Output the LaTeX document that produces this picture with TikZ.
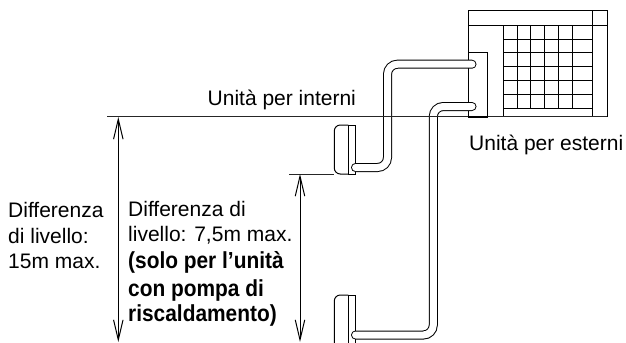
\documentclass[tikz,border=0pt]{standalone}
\usepackage{fontspec}
\setmainfont{Liberation Sans}
\newfontfamily\bnarrow[FakeStretch=0.9]{Liberation Sans}
\usetikzlibrary{arrows.meta}
\tikzset{
  ln/.style={line width=1bp,black!85},
  thin ln/.style={line width=1bp,black},
  pipe/.style={line width=9bp,black,line cap=round,rounded corners=10bp},
  pipein/.style={line width=7bp,white,line cap=round,rounded corners=10bp},
  dim/.style={line width=1bp,black,{Straight Barb[length=20bp,width=9.5bp,line width=1bp]}-{Straight Barb[length=20bp,width=9.5bp,line width=1bp]}},
  lab/.style={inner sep=0pt,anchor=base west,font=\fontsize{21bp}{24bp}\selectfont},
  labb/.style={lab,font=\fontsize{23.2bp}{26bp}\selectfont\bnarrow\bfseries},
}
\begin{document}
\begin{tikzpicture}[x=1bp,y=-1bp]
\useasboundingbox (0,0) rectangle (626,342);
% outdoor unit
\draw[thin ln] (468.3,10.7) rectangle (607.3,116.7);
\draw[thin ln] (468.3,25) -- (607.3,25);
\draw[thin ln] (592.3,10.7) -- (592.3,116.7);
\draw[thin ln] (503.3,25) -- (503.3,116.7);
\foreach \x in {517,530.7,544.3,558.3,572.3} \draw[thin ln] (\x,25) -- (\x,108.3);
\foreach \y in {39,52.7,66.7,80.7,94.3,108.3} \draw[thin ln] (503.3,\y) -- (592.3,\y);
\draw[thin ln] (468.3,52.3) -- (487.7,52.3) -- (487.7,116.7);
% indoor units
\draw[thin ln,rounded corners=6bp] (348.3,125) -- (334.3,125) -- (334.3,174) -- (348.3,174);
\draw[thin ln] (348.3,125) -- (355.7,125) -- (355.7,174) -- (348.3,174) -- cycle;
\draw[thin ln,rounded corners=6bp] (348.3,295) -- (334.3,295) -- (334.3,345);
\draw[thin ln] (348.3,345) -- (348.3,295) -- (355.7,295) -- (355.7,345);
% pipes
\coordinate (p1a) at (472,64.2);
\coordinate (p1b) at (387.5,64.2);
\coordinate (p1c) at (387.5,167.5);
\coordinate (p1d) at (355.5,167.5);
\coordinate (p2a) at (472,106.5);
\coordinate (p2b) at (433.3,106.5);
\coordinate (p2c) at (433.3,335);
\coordinate (p2d) at (355.5,335);
\draw[pipe] (p1a) -- (p1b) -- (p1c) -- (p1d);
\draw[pipein] (p1a) -- (p1b) -- (p1c) -- (p1d);
\draw[pipe] (p2a) -- (p2b) -- (p2c) -- (p2d);
\draw[pipein] (p2a) -- (p2b) -- (p2c) -- (p2d);
% level lines
\draw[ln] (107.3,116.7) -- (607.3,116.7);
\draw[ln] (289,174) -- (334.3,174);
\draw[line width=1.6bp] (468.3,116.7) -- (487.7,116.7);
% dimensions
\coordinate (d1a) at (118.3,117);
\coordinate (d1b) at (118.3,342);
\coordinate (d2a) at (300,174);
\coordinate (d2b) at (300,342);
\draw[dim] (d1a) -- (d1b);
\draw[dim] (d2a) -- (d2b);
% labels
\node[lab] (int) at (207.5,105) {Unità per interni};
\node[lab] (est) at (469,150) {Unità per esterni};
\node[lab] (a1) at (8,217.7) {Differenza};
\node[lab] (a2) at (8,243.3) {di livello:};
\node[lab] (a3) at (8,268.3) {15m max.};
\node[lab] (b1) at (128,216.7) {Differenza di};
\node[lab] (b2) at (128,241.7) {livello: 7,5m max.};
\node[labb] (b3) at (128,268) {(solo per l’unità};
\node[labb] (b4) at (128,296) {con pompa di};
\node[labb] (b5) at (128,321) {riscaldamento)};
\end{tikzpicture}
\end{document}
